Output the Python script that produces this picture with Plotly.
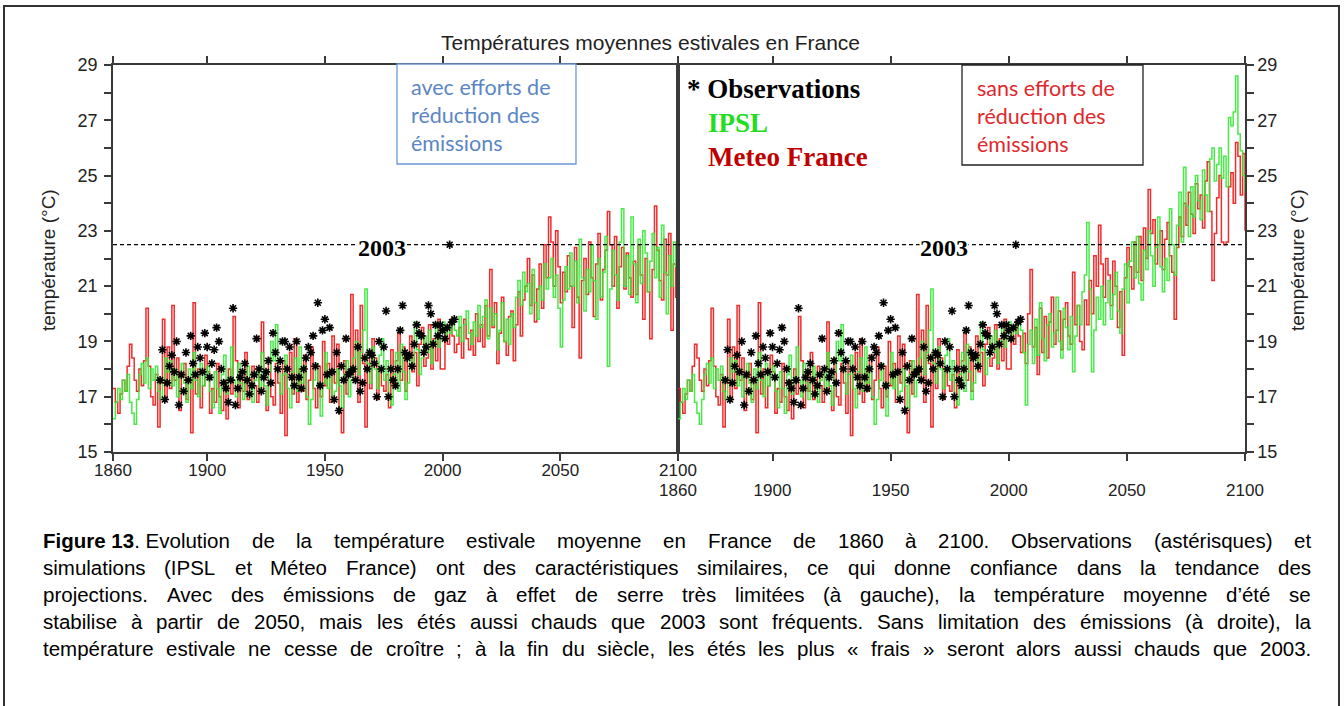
import plotly.graph_objects as go

W, H = 1344, 706

# ---------------------------------------------------------------- data
YEAR_START = 1860
YEAR_END = 2100

# Historical simulations 1860-2005 (shared by both scenarios)
ipsl_hist = [
    16.2, 16.8, 17.3, 16.9, 17.6, 17.2, 17.8, 16.8, 16.4, 16.0,
    16.9, 17.8, 18.2, 17.5, 18.4, 17.3, 18.0, 17.6, 18.1, 17.2,
    16.9, 17.6, 18.4, 17.9, 18.3, 17.4, 18.0, 17.0, 17.7, 18.2,
    17.5, 16.8, 18.0, 17.3, 18.6, 17.6, 17.0, 18.2, 17.4, 17.8,
    18.1, 17.2, 16.6, 17.9, 17.3, 16.4, 17.8, 18.5, 17.1, 17.7,
    18.8, 17.6, 17.0, 18.2, 17.5, 16.9, 17.7, 18.1, 17.3, 16.8,
    17.6, 18.0, 17.2, 18.6, 17.4, 16.7, 17.9, 19.0, 18.3, 19.6,
    18.0, 17.1, 17.8, 18.5, 17.3, 16.6, 17.9, 18.4, 17.2, 18.8,
    17.5, 18.1, 17.0, 16.0, 16.9, 17.6, 18.2, 17.4, 16.3, 17.5,
    18.6, 17.3, 17.9, 16.9, 17.2, 18.0, 17.4, 16.6, 17.8, 18.3,
    17.0, 17.6, 18.4, 19.0, 17.8, 18.6, 19.4, 20.9, 18.2, 17.5,
    18.8, 18.0, 17.3, 18.5, 19.1, 17.6, 18.3, 17.0, 16.7, 17.8,
    18.6, 17.2, 18.9, 17.9, 16.9, 17.5, 18.4, 18.1, 19.7, 18.7,
    17.8, 18.4, 19.2, 18.6, 19.4, 18.2, 19.0, 19.5, 18.8, 19.3,
    19.7, 19.1, 19.6, 19.3, 19.8, 19.4,
]
meteo_hist = [
    17.3, 16.8, 16.4, 17.1, 17.6, 17.2, 18.1, 18.9, 18.4, 17.6,
    17.2, 18.0, 17.4, 18.3, 20.2, 18.1, 17.0, 16.7, 17.8, 15.9,
    17.5, 19.8, 16.9, 18.8, 17.3, 20.3, 17.6, 18.4, 16.5, 17.7,
    18.2, 16.9, 17.6, 15.7, 20.4, 17.1, 18.0, 16.6, 17.4, 18.5,
    17.9, 16.4, 17.3, 16.8, 18.2, 17.0, 16.5, 17.6, 16.2, 18.0,
    17.1, 19.9, 18.3, 16.6, 17.9, 17.2, 18.6, 16.9, 17.5, 18.1,
    17.4, 16.8, 18.0, 19.7, 17.2, 16.5, 18.4, 17.0, 16.7, 18.2,
    17.5, 16.4, 18.3, 15.6, 17.8, 18.6, 17.1, 19.1, 16.8, 18.0,
    17.2, 18.5, 16.9, 17.6, 18.8, 17.3, 16.6, 18.1, 17.0, 19.0,
    17.4, 18.2, 16.8, 19.2, 17.5, 18.9, 16.4, 15.7, 18.3, 17.1,
    18.0, 20.7, 17.6, 19.4, 16.8, 20.3, 18.2, 15.9, 18.6, 17.3,
    19.1, 18.4, 16.9, 18.0, 17.4, 17.2, 17.8, 16.6, 18.7, 17.5,
    18.3, 19.3, 17.6, 18.8, 17.2, 18.5, 19.2, 17.9, 18.6, 17.4,
    18.9, 19.5, 18.1, 18.4, 19.6, 18.0, 19.1, 18.3, 19.8, 18.0,
    18.0, 19.4, 18.9, 19.7, 19.2, 18.6,
]

# Projections 2006-2100, with emission reductions (left panel)
ipsl_low = [
    19.2, 19.9, 19.0, 19.6, 20.1,
    19.3, 18.9, 19.7, 19.2, 20.3, 19.5, 19.9, 20.5, 19.1, 20.2,
    19.6, 20.0, 18.7, 19.4, 20.4, 19.0, 19.8, 18.9, 20.0, 19.5,
    20.6, 21.2, 20.3, 21.5, 20.8, 21.1, 20.0, 21.6, 20.4, 19.8,
    21.0, 20.5, 21.8, 20.9, 21.3, 22.0, 20.6, 21.4, 20.2, 18.8,
    20.5, 21.7, 20.9, 22.2, 21.0, 21.9, 20.4, 22.7, 21.3, 20.1,
    21.6, 20.8, 22.5, 21.2, 19.8, 22.0, 20.6, 21.5, 22.8, 18.1,
    20.9, 22.3, 21.4, 20.5, 22.6, 23.8, 21.0, 22.1, 20.7, 23.5,
    21.8, 20.4, 22.7, 21.1, 23.0, 22.2, 20.8, 21.9, 22.9, 21.3,
    22.4, 20.6, 23.2, 21.5, 20.0, 22.1, 21.0, 22.6, 21.7, 22.3,
]
meteo_low = [
    18.9, 19.5, 18.4, 19.8, 19.1,
    18.7, 19.4, 18.5, 20.0, 19.0, 19.6, 18.8, 20.3, 19.2, 21.6,
    19.5, 20.4, 18.2, 19.3, 20.6, 19.0, 18.5, 19.9, 20.1, 18.3,
    19.6, 20.8, 19.2, 20.5, 21.0, 22.0, 20.3, 21.4, 19.7, 20.9,
    21.8, 20.2, 22.5, 21.3, 23.5, 22.6, 21.0, 23.0, 21.7, 20.4,
    21.5, 20.8, 22.1, 21.0, 19.5, 22.4, 20.6, 18.4, 21.2, 22.0,
    20.7, 22.6, 21.3, 19.9, 21.8, 22.9, 20.5, 21.6, 22.3, 23.7,
    22.5, 21.0, 22.8, 20.2, 21.7, 22.4, 20.9, 22.2, 21.3, 20.6,
    21.9, 20.7, 22.5, 21.4, 19.8, 22.0, 20.8, 19.1, 21.6, 23.9,
    22.3, 21.2, 20.5, 22.7, 21.4, 22.9, 19.4, 21.8, 20.6, 22.6,
]

# Projections 2006-2100, without emission reductions (right panel)
ipsl_high = [
    18.6, 16.7, 18.9, 19.4, 18.2,
    19.8, 18.5, 20.4, 19.1, 18.3, 19.6, 20.0, 18.8, 19.3, 20.6,
    19.0, 18.4, 20.2, 19.5, 18.7, 19.9, 17.9, 19.2, 20.3, 19.6,
    20.8, 21.4, 23.3, 20.9, 17.9, 19.4, 20.6, 19.8, 21.0, 19.6,
    20.4, 21.2, 19.8, 20.7, 21.5, 20.1, 19.3, 20.9, 21.8, 20.4,
    21.9, 22.6, 21.3, 22.8, 21.1, 20.5, 22.3, 21.6, 23.0, 22.1,
    21.0, 22.4, 23.5, 21.7, 20.8, 22.0, 21.2, 23.8, 22.5, 21.4,
    23.2, 24.4, 22.6, 25.3, 23.9, 22.8, 24.6, 23.5, 25.0, 24.1,
    23.4, 25.2, 24.3, 23.7, 25.6, 26.0, 24.8, 25.4, 26.0, 24.9,
    25.7, 24.6, 27.1, 26.8, 27.3, 28.6, 26.5, 25.9, 25.0, 24.4,
]
meteo_high = [
    19.3, 18.2, 20.0, 21.6, 18.8,
    19.5, 17.8, 20.2, 18.6, 19.9, 18.4, 19.7, 20.6, 18.9, 19.4,
    20.1, 18.7, 19.8, 20.4, 19.2, 18.9, 21.5, 19.6, 20.3, 19.0,
    18.7, 20.5, 19.6, 21.2, 20.0, 22.1, 21.0, 23.2, 21.8, 20.6,
    22.0, 21.4, 20.3, 21.9, 21.0, 19.5, 20.8, 18.5, 21.3, 22.4,
    21.7, 20.9, 22.6, 21.5, 22.8, 21.2, 23.1, 22.0, 24.5, 22.9,
    23.4, 21.8, 22.5, 23.0, 21.6, 22.7, 23.3, 22.1, 21.5, 19.8,
    22.4, 23.5, 22.8, 24.0, 23.2, 24.4, 23.6, 22.9, 24.7, 23.8,
    24.3, 23.1, 24.8, 25.5, 23.7, 21.2, 22.9, 24.2, 25.0, 22.6,
    22.5, 22.6, 24.6, 25.1, 24.0, 26.2, 25.7, 24.3, 25.8, 23.0,
]

# Observed summer means 1880-2005
OBS_START = 1880
observations = [
    17.6, 18.7, 16.9, 17.5, 18.1, 18.5, 17.9, 19.0, 16.7, 17.8,
    17.2, 18.6, 17.6, 19.2, 18.2, 17.8, 18.8, 18.4, 17.9, 19.3,
    18.8, 17.7, 18.2, 18.7, 19.5, 19.0, 18.0, 17.5, 17.3, 16.8,
    17.6, 20.2, 16.7, 17.3, 17.7, 17.9, 18.2, 17.6, 17.1, 17.4,
    17.8, 19.1, 18.0, 17.2, 17.7, 17.9, 18.3, 17.5, 19.3, 18.6,
    18.0, 18.3, 19.0, 19.0, 18.0, 18.8, 17.7, 17.4, 19.0, 17.7,
    17.3, 18.0, 18.4, 18.8, 18.6, 19.2, 18.1, 20.4, 17.4, 19.4,
    19.8, 17.8, 19.5, 17.9, 16.9, 18.6, 16.5, 18.1, 17.6, 19.1,
    17.8, 17.9, 18.0, 17.6, 18.8, 17.2, 17.5, 18.4, 18.0, 18.6,
    18.5, 18.2, 17.0, 19.0, 18.0, 18.8, 20.1, 17.0, 18.0, 17.6,
    17.4, 18.0, 19.4, 20.3, 18.6, 18.4, 18.5, 18.1, 18.9, 19.6,
    19.3, 19.2, 18.6, 18.8, 20.3, 20.0, 18.9, 19.6, 19.2, 19.6,
    19.4, 19.1, 19.5, 22.5, 19.7, 19.8,
]

HEATWAVE_2003 = 22.5
Y_RANGE = [15, 29]
X_RANGE = [YEAR_START, YEAR_END]
X_TICKS = [1860, 1900, 1950, 2000, 2050, 2100]
Y_TICKS = list(range(15, 30))
Y_TICKTEXT = [str(v) if v % 2 == 1 else "" for v in Y_TICKS]

years = list(range(YEAR_START, YEAR_END + 1))
obs_years = list(range(OBS_START, OBS_START + len(observations)))

# ---------------------------------------------------------------- helpers
def px(x):
    return x / W


def py(y):
    return 1 - y / H


GREEN = "#33E833"
RED = "#EE1C1C"
AXIS = "#3a3a3a"
SANS = "Liberation Sans, Arial, sans-serif"
SERIF = "Liberation Serif, Times New Roman, serif"
HUMANIST = "Lato, Carlito, Calibri, Open Sans, sans-serif"

fig = go.Figure()

panels = [
    ("x", "y", ipsl_low, meteo_low),
    ("x2", "y2", ipsl_high, meteo_high),
]
for xa, ya, ipsl_future, meteo_future in panels:
    fig.add_trace(go.Scatter(
        x=years, y=meteo_hist + meteo_future, xaxis=xa, yaxis=ya,
        mode="lines", line=dict(color=RED, width=1.5, shape="hv"),
        opacity=0.92, showlegend=False, hoverinfo="skip"))
    fig.add_trace(go.Scatter(
        x=years, y=ipsl_hist + ipsl_future, xaxis=xa, yaxis=ya,
        mode="lines", line=dict(color=GREEN, width=1.5, shape="hv"),
        opacity=0.88, showlegend=False, hoverinfo="skip"))
    fig.add_trace(go.Scatter(
        x=obs_years, y=observations, xaxis=xa, yaxis=ya,
        mode="markers",
        marker=dict(symbol="asterisk-open", size=7, color="black",
                    line=dict(color="black", width=1.6)),
        showlegend=False, hoverinfo="skip"))

axis_common = dict(
    range=X_RANGE, tickvals=X_TICKS, ticks="outside", ticklen=7, tickwidth=1.5,
    tickcolor=AXIS, showline=True, linecolor=AXIS, linewidth=1.5,
    mirror="ticks", showgrid=False, zeroline=False, automargin=False,
    tickfont=dict(family=SANS, size=17, color="#222"),
)
yaxis_common = dict(
    range=Y_RANGE, tickvals=Y_TICKS, ticktext=Y_TICKTEXT, ticks="outside",
    ticklen=7, tickwidth=1.5, tickcolor=AXIS, showline=True, linecolor=AXIS,
    linewidth=1.5, mirror=True, showgrid=False, zeroline=False, automargin=False,
    tickfont=dict(family=SANS, size=18, color="#222"),
)
Y_DOMAIN = [py(452), py(65)]

fig.update_layout(
    width=W, height=H, autosize=False,
    margin=dict(l=0, r=0, t=0, b=0, pad=0),
    paper_bgcolor="white", plot_bgcolor="white",
    xaxis=dict(domain=[px(113), px(678)], anchor="y", ticklabelstandoff=-5,
               **axis_common),
    yaxis=dict(domain=Y_DOMAIN, anchor="x", side="left", ticklabelstandoff=3,
               **yaxis_common),
    xaxis2=dict(domain=[px(678), px(1245)], anchor="y2", ticklabelstandoff=15,
                **axis_common),
    yaxis2=dict(domain=Y_DOMAIN, anchor="x2", side="right", ticklabelstandoff=0,
                **yaxis_common),
)

shapes = []
annotations = []

# 2003 reference level and its label in each panel
for xa, ya, label_year in [("x", "y", 1974.3), ("x2", "y2", 1972.6)]:
    shapes.append(dict(type="line", xref=xa, yref=ya, x0=YEAR_START, x1=YEAR_END,
                       y0=HEATWAVE_2003, y1=HEATWAVE_2003,
                       line=dict(color="black", width=1.2, dash="4px,3px")))
    annotations.append(dict(xref=xa, yref=ya, x=label_year, y=HEATWAVE_2003,
                            text="<b>2003</b>", showarrow=False, yshift=-3,
                            yanchor="middle", bgcolor="white", borderpad=0,
                            font=dict(family=SERIF, size=24, color="black")))

# scenario boxes
shapes.append(dict(type="rect", xref="paper", yref="paper",
                   x0=px(397), x1=px(576), y0=py(164), y1=py(64),
                   line=dict(color="#6C98D4", width=1.3), fillcolor="white"))
shapes.append(dict(type="rect", xref="paper", yref="paper",
                   x0=px(962), x1=px(1143), y0=py(165), y1=py(65),
                   line=dict(color="#222", width=1.3), fillcolor="white"))
for i, line in enumerate(["avec efforts de", "réduction des", "émissions"]):
    annotations.append(dict(xref="paper", yref="paper", x=px(410), y=py(87 + 28 * i),
                            xanchor="left", yanchor="middle", text=line,
                            showarrow=False, borderpad=0,
                            font=dict(family=HUMANIST, size=21.5, color="#5A86C5")))
for i, line in enumerate(["sans efforts de", "réduction des", "émissions"]):
    annotations.append(dict(xref="paper", yref="paper", x=px(976), y=py(88 + 28 * i),
                            xanchor="left", yanchor="middle", text=line,
                            showarrow=False, borderpad=0,
                            font=dict(family=HUMANIST, size=21.5, color="#E0282C")))

# series key
for text, color, x, y in [("<b>* Observations</b>", "black", 686, 89),
                          ("<b>IPSL</b>", "#22DD22", 707, 123),
                          ("<b>Meteo France</b>", "#C00000", 707, 157)]:
    annotations.append(dict(xref="paper", yref="paper", x=px(x), y=py(y),
                            xanchor="left", yanchor="middle", text=text,
                            showarrow=False, borderpad=0,
                            font=dict(family=SERIF, size=27, color=color)))

# chart title and axis titles
annotations.append(dict(xref="paper", yref="paper", x=px(650), y=py(42),
                        xanchor="center", yanchor="middle",
                        text="Températures moyennes estivales en France",
                        showarrow=False, borderpad=0,
                        font=dict(family=SANS, size=21, color="#222")))
for x in (48, 1297):
    annotations.append(dict(xref="paper", yref="paper", x=px(x), y=py(260),
                            xanchor="center", yanchor="middle",
                            text="température (°C)", textangle=-90,
                            showarrow=False, borderpad=0,
                            font=dict(family=SANS, size=19, color="#222")))

# outer frame around figure and caption
shapes.append(dict(type="rect", xref="paper", yref="paper",
                   x0=px(4), x1=px(1339), y0=py(712), y1=py(6),
                   line=dict(color="#333", width=2), fillcolor="rgba(0,0,0,0)"))

# ---------------------------------------------------------------- caption
# "**" toggles bold, "~" is a non-stretching space
CAPTION = [
    "**Figure**~**13**.~Evolution de la température estivale moyenne en France de 1860 à 2100. Observations (astérisques) et",
    "simulations (IPSL et Méteo France) ont des caractéristiques similaires, ce qui donne confiance dans la tendance des",
    "projections. Avec des émissions de gaz à effet de serre très limitées (à gauche), la température moyenne d’été se",
    "stabilise à partir de 2050, mais les étés aussi chauds que 2003 sont fréquents. Sans limitation des émissions (à droite), la",
    "température estivale ne cesse de croître ; à la fin du siècle, les étés les plus « frais » seront alors aussi chauds que 2003.",
]
CAP_SIZE = 20.5
CAP_LEFT, CAP_RIGHT = 42, 1310
CAP_Y0, CAP_DY = 540, 27

# Arial / Liberation Sans advance widths (1/1000 em)
REG = {}
for chars, w in [("abdeghnopqu", 556), ("ckvxyzs", 500), ("ft", 278), ("ijl", 222),
                 ("m", 833), ("r", 333), ("w", 722),
                 ("éèêëàâäôöùûü", 556), ("îïì", 278), ("ç", 500),
                 ("ABEKPSVXY", 667), ("CDHNRU", 722), ("FTZ", 611), ("GOQ", 778),
                 ("I", 278), ("J", 500), ("L", 556), ("M", 833), ("W", 944),
                 ("0123456789", 556), (" .,;:", 278), ("()-", 333), ("«»", 556),
                 ("’", 222)]:
    for ch in chars:
        REG[ch] = w
BOLD = {}
for chars, w in [("aceksvxy", 556), ("bdghnopqu", 611), ("ft", 333), ("ijl", 278),
                 ("m", 889), ("w", 778), ("z", 500), ("F", 611), ("r", 389),
                 ("0123456789", 556), (" .", 278)]:
    for ch in chars:
        BOLD[ch] = w


def runs_of(word):
    parts = word.replace("~", " ").split("**")
    return [(p, i % 2 == 1) for i, p in enumerate(parts) if p]


def word_width(word):
    total = 0
    for text, bold in runs_of(word):
        table = BOLD if bold else REG
        total += sum(table.get(ch, 556) for ch in text)
    return total / 1000 * CAP_SIZE


def word_html(word):
    return "".join(f"<b>{t}</b>" if b else t for t, b in runs_of(word))


for li, line in enumerate(CAPTION):
    words = line.split(" ")
    widths = [word_width(w) for w in words]
    gap = (CAP_RIGHT - CAP_LEFT - sum(widths)) / (len(words) - 1)
    xpos = CAP_LEFT
    for w, wd in zip(words, widths):
        annotations.append(dict(xref="paper", yref="paper", x=px(xpos),
                                y=py(CAP_Y0 + li * CAP_DY), xanchor="left",
                                yanchor="middle", text=word_html(w),
                                showarrow=False, borderpad=0,
                                font=dict(family=SANS, size=CAP_SIZE, color="black")))
        xpos += wd + gap

fig.update_layout(shapes=shapes, annotations=annotations)
fig.write_html("out.html")
